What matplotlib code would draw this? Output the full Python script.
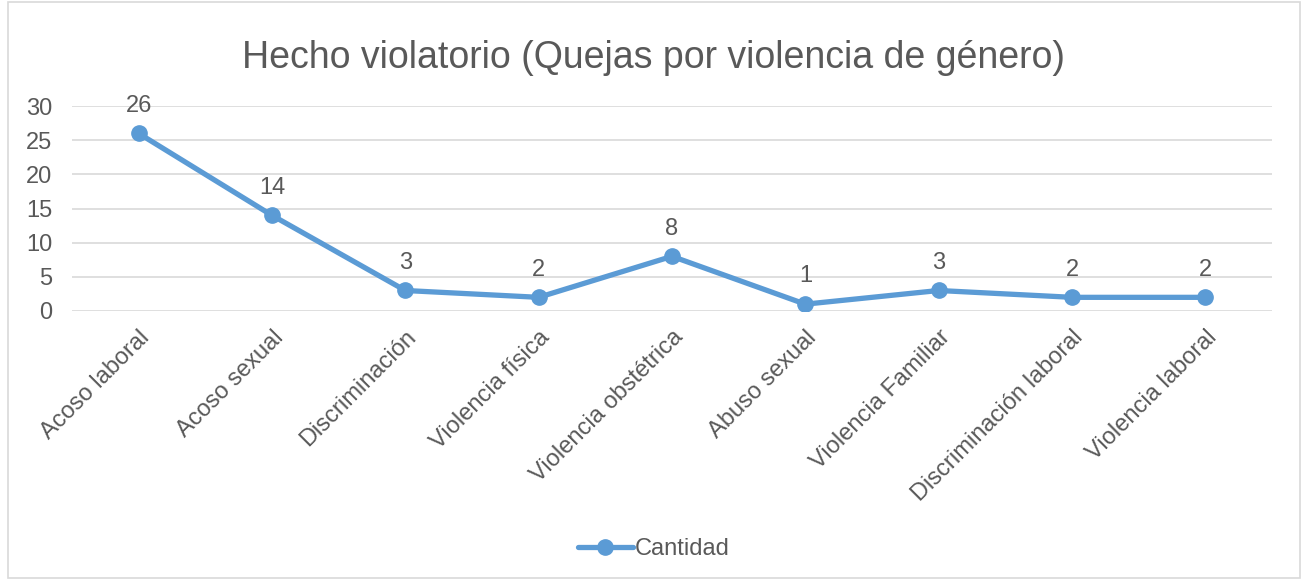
import matplotlib.pyplot as plt
from matplotlib.patches import Rectangle

plt.rcParams['font.family'] = ['Liberation Sans', 'DejaVu Sans']

categorias = ["Acoso laboral", "Acoso sexual", "Discriminación", "Violencia física",
              "Violencia obstétrica", "Abuso sexual", "Violencia Familiar",
              "Discriminación laboral", "Violencia laboral"]
cantidad = [26, 14, 3, 2, 8, 1, 3, 2, 2]

gris = '#595959'
azul = '#5B9BD5'

fig = plt.figure(figsize=(13.08, 5.8), dpi=100)
ax = fig.add_axes([0.055, 0.4638, 0.9175, 0.3534])

x = range(len(categorias))
ax.plot(x, cantidad, color=azul, lw=3.8, marker='o', ms=11,
        solid_capstyle='round', label='Cantidad', zorder=3)
for xi, v in zip(x, cantidad):
    ax.annotate(str(v), (xi, v), xytext=(0, 12), textcoords='offset points',
                ha='center', va='bottom', fontsize=17, color=gris)

ax.set_xlim(-0.5, len(categorias) - 0.5)
ax.set_ylim(0, 30)
ax.set_yticks(range(0, 31, 5))
ax.set_xticks(list(x))
ax.set_xticklabels(categorias, rotation=45, ha='right', rotation_mode='anchor')
ax.tick_params(axis='both', length=0, labelsize=17, labelcolor=gris)
ax.tick_params(axis='x', pad=11)
ax.tick_params(axis='y', pad=14)
ax.grid(axis='y', color='#D9D9D9', lw=1.2)
ax.set_axisbelow(True)
for s in ax.spines.values():
    s.set_visible(False)

fig.text(0.5, 0.9, "Hecho violatorio (Quejas por violencia de género)",
         ha='center', va='center', fontsize=27, color=gris)

fig.legend(loc='center', bbox_to_anchor=(0.5, 0.053), frameon=False,
           fontsize=17, labelcolor=gris, handlelength=2.3, handletextpad=0.1)

fig.patches.append(Rectangle((0.006, 0.004), 0.988, 0.993, transform=fig.transFigure,
                             fill=False, ec='#D9D9D9', lw=1.2))

fig.savefig('out.png', dpi=100)
